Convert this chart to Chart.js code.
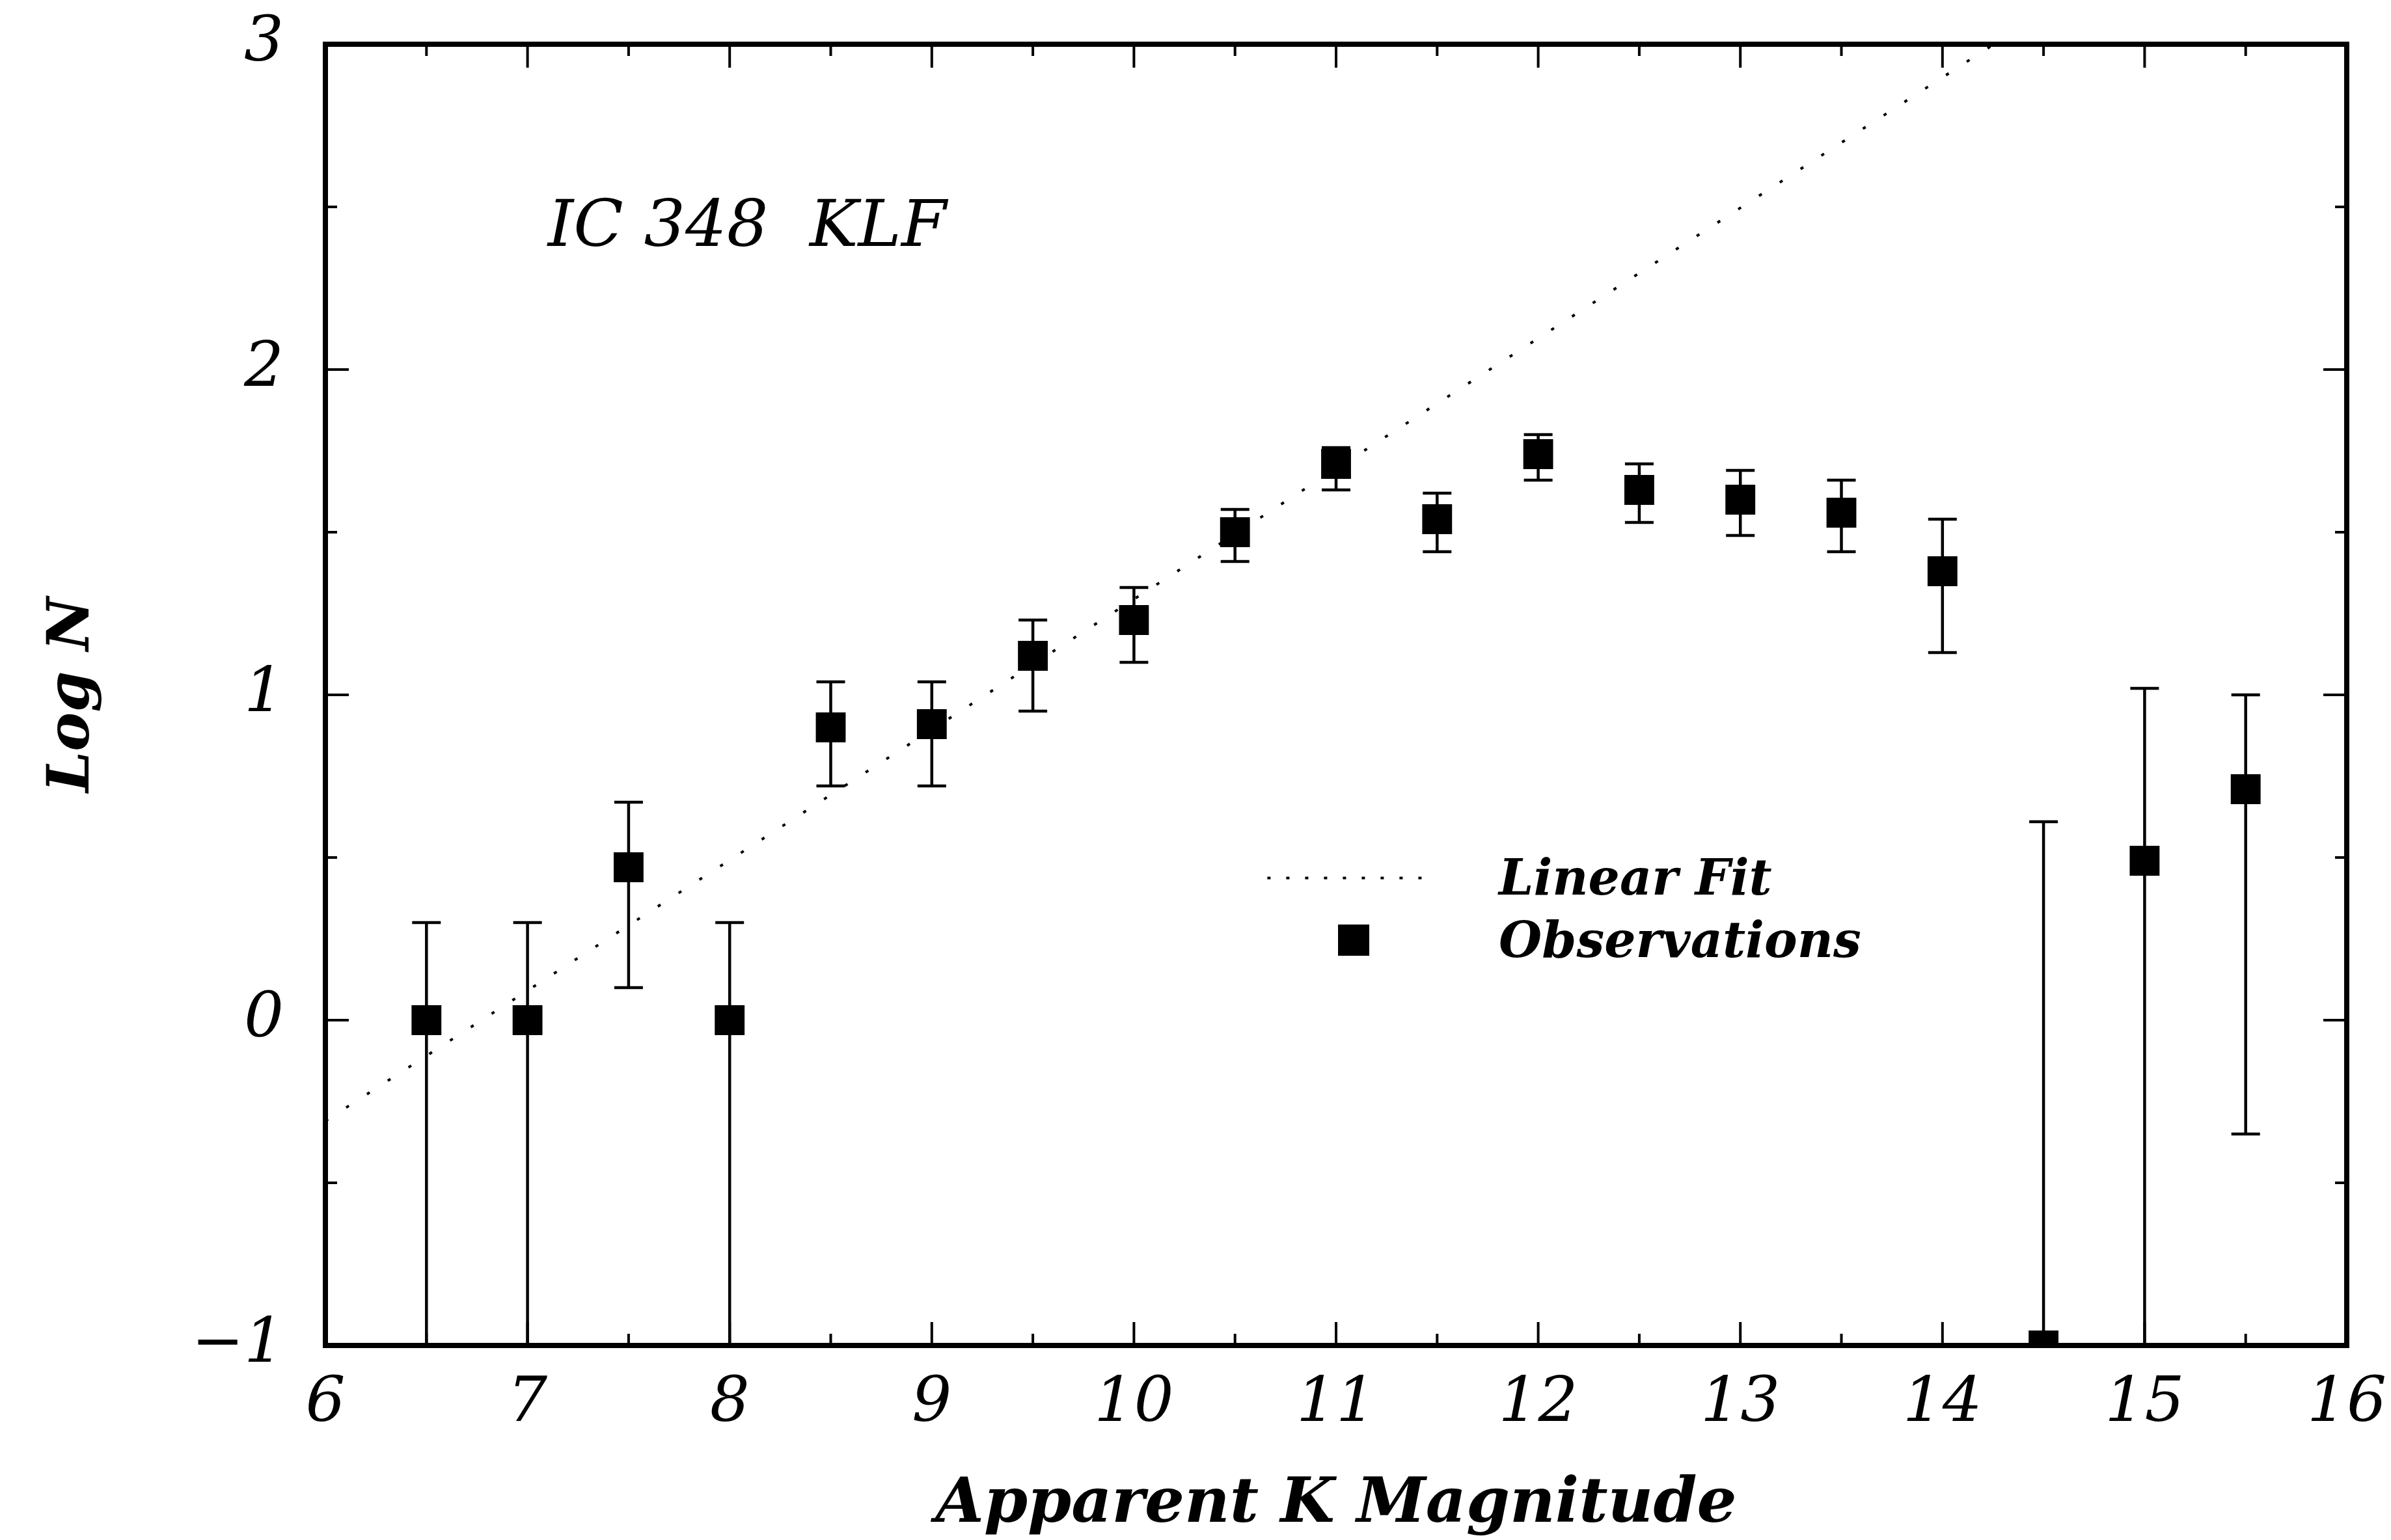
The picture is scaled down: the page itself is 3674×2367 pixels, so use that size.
<!DOCTYPE html>
<html>
<head>
<meta charset="utf-8">
<title>IC 348 KLF</title>
<script src="https://cdn.jsdelivr.net/npm/chart.js@4.4.0/dist/chart.umd.min.js"></script>
<style>
    body { margin: 0; background: #fff; }
    canvas { display: block; }
</style>
</head>
<body>
<canvas id="klf" width="3674" height="2367"></canvas>
<script>
// K luminosity function of IC 348 : log of star counts per half-magnitude bin
const magnitudes = [6.5, 7, 7.5, 8, 8.5, 9, 9.5, 10, 10.5, 11, 11.5, 12, 12.5, 13, 13.5, 14, 14.5, 15, 15.5];
const logN = [0, 0, 0.47, 0, 0.90, 0.91, 1.12, 1.23, 1.50, 1.71, 1.54, 1.74, 1.63, 1.60, 1.56, 1.38, -1, 0.49, 0.71];
const errUpper = [0.30, 0.30, 0.67, 0.30, 1.04, 1.04, 1.23, 1.33, 1.57, 1.76, 1.62, 1.80, 1.71, 1.69, 1.66, 1.54, 0.61, 1.02, 1.00];
// null = the lower bar runs off the bottom of the plot (log of zero)
const errLower = [null, null, 0.10, null, 0.72, 0.72, 0.95, 1.10, 1.41, 1.63, 1.44, 1.66, 1.53, 1.49, 1.44, 1.13, null, null, -0.35];

// straight-line fit, end points
const fitK = [6, 16];
const fitLogN = [-0.31, 3.70];

// tick labels
const xTicks = [6, 7, 8, 9, 10, 11, 12, 13, 14, 15, 16];
const yTicks = [-1, 0, 1, 2, 3];

const serif = '"DejaVu Serif", serif';

// error bars, drawn under the square markers
const errorBars = {
    id: "errorBars",
    beforeDatasetsDraw(chart) {
        const { ctx, chartArea: a, scales: { x, y } } = chart;
        ctx.save();
        ctx.beginPath();
        ctx.rect(a.left, a.top, a.right - a.left, a.bottom - a.top);
        ctx.clip();
        ctx.strokeStyle = "#000";
        ctx.lineWidth = 4.5;
        const cap = 22;
        ctx.beginPath();
        for (let i = 0; i < magnitudes.length; i++) {
            const px = x.getPixelForValue(magnitudes[i]);
            const top = y.getPixelForValue(errUpper[i]);
            const low = errLower[i] === null ? a.bottom : y.getPixelForValue(errLower[i]);
            ctx.moveTo(px, top);
            ctx.lineTo(px, low);
            ctx.moveTo(px - cap, top);
            ctx.lineTo(px + cap, top);
            if (errLower[i] !== null) {
                ctx.moveTo(px - cap, low);
                ctx.lineTo(px + cap, low);
            }
        }
        ctx.stroke();
        ctx.restore();
    }
};

// box round the plot with inward ticks on all four sides
const frame = {
    id: "frame",
    afterDatasetsDraw(chart) {
        const { ctx, chartArea: a, scales: { x, y } } = chart;
        ctx.save();
        ctx.strokeStyle = "#000";
        ctx.lineWidth = 8;
        ctx.strokeRect(a.left, a.top, a.right - a.left, a.bottom - a.top);
        ctx.lineWidth = 4;
        ctx.beginPath();
        for (let v = x.min; v <= x.max; v += 0.5) {
            const len = Number.isInteger(v) ? 36 : 18;
            const px = x.getPixelForValue(v);
            ctx.moveTo(px, a.bottom);
            ctx.lineTo(px, a.bottom - len);
            ctx.moveTo(px, a.top);
            ctx.lineTo(px, a.top + len);
        }
        for (let v = y.min; v <= y.max; v += 0.5) {
            const len = Number.isInteger(v) ? 36 : 18;
            const py = y.getPixelForValue(v);
            ctx.moveTo(a.left, py);
            ctx.lineTo(a.left + len, py);
            ctx.moveTo(a.right, py);
            ctx.lineTo(a.right - len, py);
        }
        ctx.stroke();
        ctx.restore();
    }
};

// label inside the plot and the key, placed in axis units
const notes = {
    id: "notes",
    afterDatasetsDraw(chart) {
        const { ctx, scales: { x, y } } = chart;
        ctx.save();
        ctx.fillStyle = "#000";
        ctx.textAlign = "left";
        ctx.textBaseline = "alphabetic";
        ctx.font = `italic 100px ${serif}`;
        ctx.fillText("IC 348  KLF", x.getPixelForValue(7.1), y.getPixelForValue(2.38));

        const ds = chart.data.datasets;
        ctx.font = `italic bold 76px ${serif}`;
        ctx.textBaseline = "middle";

        // dotted sample for the fit
        const ly = y.getPixelForValue(0.437);
        ctx.strokeStyle = "#000";
        ctx.lineWidth = 4;
        ctx.setLineDash([5, 24]);
        ctx.beginPath();
        ctx.moveTo(x.getPixelForValue(10.66), ly);
        ctx.lineTo(x.getPixelForValue(11.49), ly);
        ctx.stroke();
        ctx.setLineDash([]);
        ctx.fillText(ds[0].label, x.getPixelForValue(11.805), ly + 6);

        // square sample for the observations
        const oy = y.getPixelForValue(0.246);
        const ox = x.getPixelForValue(11.087);
        ctx.fillRect(ox - 24, oy - 24, 48, 48);
        ctx.fillText(ds[1].label, x.getPixelForValue(11.805), oy + 6);
        ctx.restore();
    }
};

new Chart(document.getElementById("klf"), {
    type: "scatter",
    data: {
        datasets: [
            {
                label: "Linear Fit",
                data: fitK.map((k, i) => ({ x: k, y: fitLogN[i] })),
                showLine: true,
                borderColor: "#000",
                borderWidth: 4,
                borderDash: [5, 33],
                pointRadius: 0
            },
            {
                label: "Observations",
                data: magnitudes.map((k, i) => ({ x: k, y: logN[i] })),
                pointStyle: "rect",
                pointRadius: 31,
                backgroundColor: "#000",
                borderColor: "#000",
                borderWidth: 2
            }
        ]
    },
    options: {
        responsive: false,
        animation: false,
        layout: { padding: { top: 68, right: 68, left: 0, bottom: 0 } },
        plugins: {
            legend: { display: false },
            tooltip: { enabled: false }
        },
        scales: {
            x: {
                type: "linear",
                min: 6,
                max: 16,
                afterBuildTicks: (scale) => { scale.ticks = xTicks.map(v => ({ value: v })); },
                afterFit: (scale) => {
                    scale.height = 299;
                    scale.paddingLeft = 0;
                    scale.paddingRight = 0;
                },
                grid: { display: false, drawTicks: false },
                border: { display: false },
                ticks: {
                    padding: 33,
                    color: "#000",
                    font: { family: serif, size: 96, style: "italic" }
                },
                title: {
                    display: true,
                    text: "Apparent K Magnitude",
                    color: "#000",
                    padding: { top: 0, bottom: 5 },
                    font: { family: serif, size: 96, style: "italic", weight: "bold", lineHeight: 1 }
                }
            },
            y: {
                type: "linear",
                min: -1,
                max: 3,
                afterBuildTicks: (scale) => { scale.ticks = yTicks.map(v => ({ value: v })); },
                afterFit: (scale) => {
                    scale.width = 500;
                    scale.paddingTop = 0;
                    scale.paddingBottom = 0;
                },
                grid: { display: false, drawTicks: false },
                border: { display: false },
                ticks: {
                    padding: 64,
                    color: "#000",
                    font: { family: serif, size: 96, style: "italic" },
                    callback: (v) => (v < 0 ? "\u2212" + Math.abs(v) : String(v))
                },
                title: {
                    display: true,
                    text: "Log N",
                    color: "#000",
                    padding: { top: 68, bottom: 0 },
                    font: { family: serif, size: 90, style: "italic", weight: "bold", lineHeight: 1 }
                }
            }
        }
    },
    plugins: [errorBars, frame, notes]
});
</script>
</body>
</html>
